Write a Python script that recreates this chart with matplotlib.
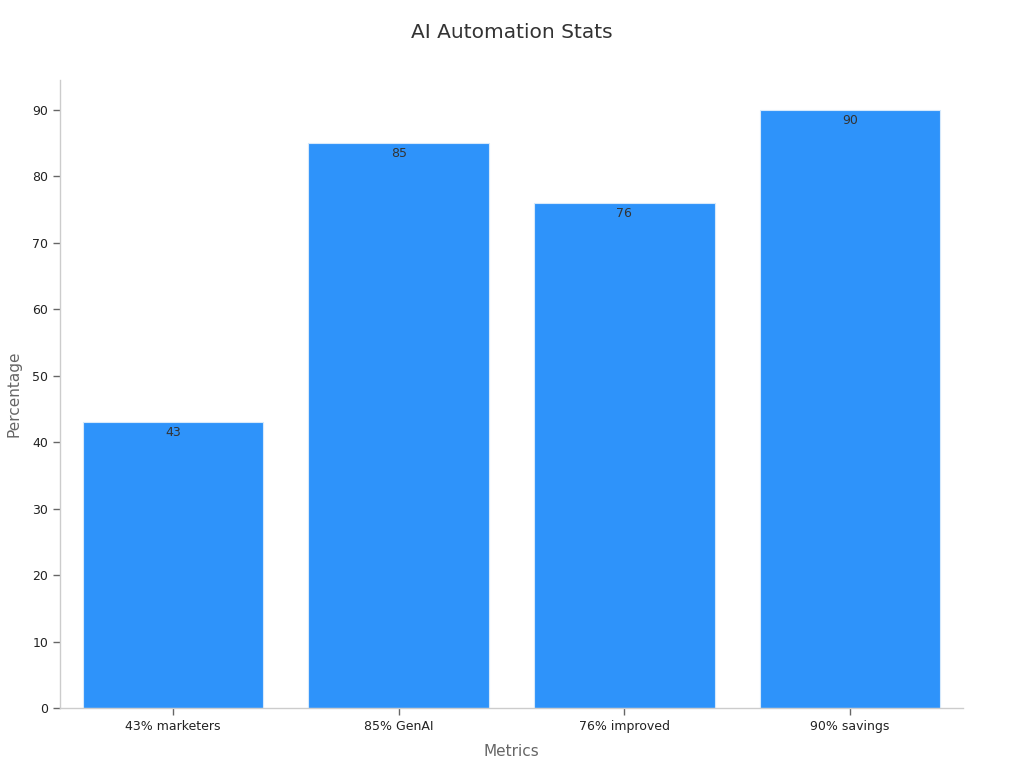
import numpy as np
import matplotlib.pyplot as plt

# data
categories = ['43% marketers', '85% GenAI', '76% improved', '90% savings']
values = [43, 85, 76, 90]
yticks = [0, 10, 20, 30, 40, 50, 60, 70, 80, 90]

plt.rcParams['font.family'] = 'DejaVu Sans'

fig = plt.figure(figsize=(10.24, 7.68), dpi=100)
ax = fig.add_axes([60/1024, 1-708/768, (963-60)/1024, (708-80)/768])

x = np.arange(len(categories))
bars = ax.bar(x, values, width=0.8, color='#2E93FA', edgecolor='#d6e9fb', linewidth=0.8)

for b, v in zip(bars, values):
    ax.text(b.get_x() + b.get_width()/2, v - 0.6, str(v), ha='center', va='top',
            fontsize=9, color='#333333')

ax.set_xlim(-0.5, len(categories) - 0.5)
ax.set_ylim(0, 94.5)
ax.set_xticks(x)
ax.set_xticklabels(categories, fontsize=9, color='#222222')
ax.set_yticks(yticks)
ax.set_yticklabels([str(t) for t in yticks], fontsize=9, color='#222222')

for s in ['top', 'right']:
    ax.spines[s].set_visible(False)
for s in ['left', 'bottom']:
    ax.spines[s].set_color('#cccccc')
    ax.spines[s].set_linewidth(1)
ax.tick_params(axis='both', colors='#666666', length=5, width=1, labelcolor='#222222')

ax.set_xlabel('Metrics', fontsize=11, color='#666666', labelpad=8)
ax.set_ylabel('Percentage', fontsize=11, color='#666666', labelpad=8)

fig.text(0.5, 1-33/768, 'AI Automation Stats', ha='center', va='center', fontsize=14.5, color='#333333')

fig.savefig('out.png', dpi=100)
